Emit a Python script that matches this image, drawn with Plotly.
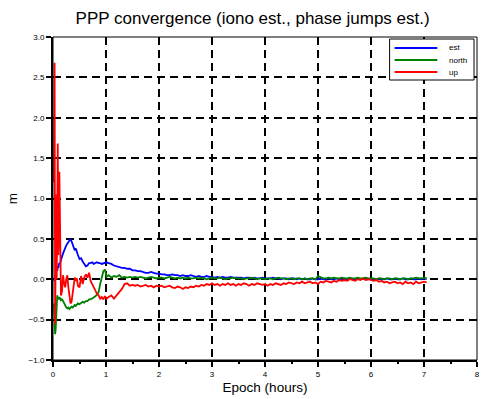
import plotly.graph_objects as go

# ---------------- data ----------------
hours_early = [0.02, 0.03, 0.04, 0.05, 0.06, 0.07, 0.08, 0.09, 0.10, 0.11,
               0.12, 0.13, 0.14, 0.15, 0.17, 0.19, 0.21, 0.23, 0.25, 0.27,
               0.29, 0.31, 0.33, 0.35, 0.37, 0.39, 0.41, 0.43, 0.45, 0.47,
               0.50, 0.53, 0.56, 0.59, 0.62, 0.65, 0.68, 0.71, 0.74, 0.77,
               0.80, 0.83, 0.86, 0.89, 0.92, 0.95, 0.98, 1.01, 1.05, 1.10,
               1.15, 1.20, 1.25, 1.30, 1.35, 1.40, 1.45, 1.50]
hours_late = [1.55, 1.60, 1.65, 1.70, 1.75, 1.80, 1.85, 1.90, 1.95, 2.00,
              2.05, 2.10, 2.15, 2.20, 2.25, 2.30, 2.35, 2.40, 2.45, 2.50,
              2.55, 2.60, 2.65, 2.70, 2.75, 2.80, 2.85, 2.90, 2.95, 3.00,
              3.05, 3.10, 3.15, 3.20, 3.25, 3.30, 3.35, 3.40, 3.45, 3.50,
              3.55, 3.60, 3.65, 3.70, 3.75, 3.80, 3.85, 3.90, 3.95, 4.00,
              4.05, 4.10, 4.15, 4.20, 4.25, 4.30, 4.35, 4.40, 4.45, 4.50,
              4.55, 4.60, 4.65, 4.70, 4.75, 4.80, 4.85, 4.90, 4.95, 5.00,
              5.05, 5.10, 5.15, 5.20, 5.25, 5.30, 5.35, 5.40, 5.45, 5.50,
              5.55, 5.60, 5.65, 5.70, 5.75, 5.80, 5.85, 5.90, 5.95, 6.00,
              6.05, 6.10, 6.15, 6.20, 6.25, 6.30, 6.35, 6.40, 6.45, 6.50,
              6.55, 6.60, 6.65, 6.70, 6.75, 6.80, 6.85, 6.90, 6.95, 7.00,
              7.05]
hours = hours_early + hours_late

est_early = [0.00, -0.02, 0.05, 0.00, 0.12, 0.15, 0.10, 0.16, 0.14, 0.18,
             0.20, 0.19, 0.22, 0.25, 0.28, 0.32, 0.36, 0.38, 0.42, 0.44,
             0.46, 0.48, 0.50, 0.47, 0.43, 0.40, 0.36, 0.38, 0.35, 0.30,
             0.25, 0.26, 0.22, 0.18, 0.16, 0.17, 0.20, 0.20, 0.21, 0.19,
             0.20, 0.21, 0.20, 0.20, 0.19, 0.20, 0.21, 0.21, 0.20, 0.19,
             0.17, 0.16, 0.15, 0.14, 0.14, 0.13, 0.13, 0.11]
est_late = [0.11, 0.10, 0.10, 0.09, 0.08, 0.08, 0.09, 0.08, 0.07, 0.07,
            0.06, 0.06, 0.05, 0.05, 0.06, 0.05, 0.05, 0.04, 0.05, 0.04,
            0.04, 0.05, 0.04, 0.03, 0.04, 0.03, 0.03, 0.04, 0.03, 0.03,
            0.02, 0.03, 0.02, 0.03, 0.02, 0.02, 0.03, 0.02, 0.02, 0.02,
            0.02, 0.01, 0.02, 0.02, 0.01, 0.02, 0.01, 0.01, 0.02, 0.01,
            0.01, 0.01, 0.02, 0.01, 0.01, 0.00, 0.01, 0.01, 0.00, 0.01,
            0.01, 0.00, 0.01, 0.00, 0.01, 0.00, 0.00, 0.01, 0.00, 0.00,
            0.01, 0.00, 0.00, 0.01, 0.00, 0.00, 0.01, 0.00, 0.00, 0.01,
            0.00, 0.01, 0.00, 0.00, 0.01, 0.00, 0.01, 0.00, 0.00, 0.01,
            0.00, 0.00, 0.01, 0.00, 0.00, 0.01, 0.00, 0.00, 0.01, 0.00,
            0.00, 0.01, 0.00, 0.00, 0.01, 0.00, 0.00, 0.01, 0.00, 0.01,
            0.00]

north_early = [-0.30, -0.55, -0.68, -0.62, -0.40, -0.22, -0.20, -0.24, -0.22, -0.25,
               -0.22, -0.24, -0.23, -0.26, -0.25, -0.27, -0.30, -0.33, -0.35, -0.36,
               -0.35, -0.37, -0.36, -0.34, -0.35, -0.33, -0.32, -0.33, -0.31, -0.30,
               -0.31, -0.29, -0.28, -0.29, -0.27, -0.27, -0.25, -0.25, -0.24, -0.22,
               -0.21, -0.19, -0.16, -0.06, 0.04, 0.10, 0.12, 0.03, 0.05, 0.02,
               0.04, 0.03, 0.05, 0.02, 0.03, 0.02, 0.03, 0.02]
north_late = [0.03, 0.02, 0.03, 0.02, 0.01, 0.02, 0.03, 0.02, 0.01, 0.02,
              0.02, 0.01, 0.02, 0.03, 0.02, 0.01, 0.02, 0.01, 0.02, 0.01,
              0.02, 0.01, 0.01, 0.02, 0.01, 0.02, 0.01, 0.00, 0.01, 0.02,
              0.01, 0.01, 0.02, 0.01, 0.00, 0.01, 0.01, 0.02, 0.01, 0.01,
              0.01, 0.00, 0.01, 0.01, 0.02, 0.01, 0.00, 0.01, 0.01, 0.00,
              0.01, 0.01, 0.00, 0.01, 0.02, 0.01, 0.01, 0.00, 0.01, 0.01,
              0.00, 0.01, 0.01, 0.00, 0.01, 0.00, 0.01, 0.01, 0.00, 0.04,
              0.02, 0.01, 0.01, 0.02, 0.01, 0.02, 0.01, 0.01, 0.02, 0.01,
              0.01, 0.02, 0.01, 0.01, 0.02, 0.01, 0.01, 0.02, 0.01, 0.01,
              0.01, 0.00, 0.01, 0.01, 0.00, 0.01, 0.01, 0.00, 0.01, 0.01,
              0.00, 0.01, 0.01, 0.00, 0.01, 0.01, 0.02, 0.01, 0.01, 0.02,
              0.01]

up_early = [1.20, 2.68, -0.55, 0.40, 1.05, 0.00, 0.60, 1.68, 0.30, 0.60,
            1.33, 0.50, -0.10, -0.20, -0.15, 0.05, -0.05, -0.10, 0.00, 0.05,
            -0.10, -0.20, -0.30, -0.28, -0.15, -0.05, 0.02, -0.02, 0.01, -0.08,
            -0.10, 0.04, -0.06, 0.02, 0.06, 0.02, 0.08, -0.02, -0.06, -0.12,
            -0.15, -0.18, -0.20, -0.24, -0.22, -0.25, -0.21, -0.24, -0.22, -0.20,
            -0.24, -0.20, -0.17, -0.12, -0.06, -0.05, -0.08, -0.07]
up_late = [-0.08, -0.07, -0.09, -0.08, -0.07, -0.09, -0.08, -0.10, -0.08, -0.09,
           -0.08, -0.10, -0.09, -0.08, -0.10, -0.11, -0.09, -0.10, -0.12, -0.10,
           -0.11, -0.09, -0.10, -0.08, -0.09, -0.07, -0.08, -0.06, -0.07, -0.05,
           -0.07, -0.06, -0.08, -0.06, -0.07, -0.05, -0.07, -0.06, -0.08, -0.06,
           -0.07, -0.05, -0.06, -0.08, -0.06, -0.07, -0.05, -0.06, -0.07, -0.06,
           -0.08, -0.06, -0.07, -0.05, -0.06, -0.07, -0.05, -0.06, -0.04, -0.05,
           -0.06, -0.04, -0.05, -0.03, -0.05, -0.04, -0.03, -0.05, -0.04, -0.06,
           -0.03, -0.04, -0.02, -0.03, -0.04, -0.02, -0.03, -0.01, -0.02, -0.01,
           -0.02, 0.00, -0.01, -0.02, 0.00, -0.01, 0.01, -0.01, 0.00, -0.01,
           -0.02, -0.01, -0.03, -0.02, -0.04, -0.03, -0.05, -0.04, -0.03, -0.05,
           -0.04, -0.06, -0.03, -0.05, -0.04, -0.06, -0.03, -0.05, -0.04, -0.03,
           -0.04]

est = est_early + est_late
north = north_early + north_late
up = up_early + up_late

series_names = ["est", "north", "up"]
series_colors = ["#0000ff", "#008000", "#ff0000"]
x_ticks = [0, 1, 2, 3, 4, 5, 6, 7, 8]
y_ticks = [-1.0, -0.5, 0.0, 0.5, 1.0, 1.5, 2.0, 2.5, 3.0]

# ---------------- figure ----------------
FONT = "Liberation Sans, Arial, sans-serif"
W, H = 483, 399
ML, MR, MT, MB = 53, 3, 37, 39
PW, PH = W - ML - MR, H - MT - MB


def px2paper(px, py):
    return (px - ML) / PW, (H - MB - py) / PH


fig = go.Figure()
for name, vals, col in zip(series_names, [est, north, up], series_colors):
    fig.add_trace(go.Scatter(x=hours, y=vals, mode="lines", name=name,
                             line=dict(color=col, width=1.8), showlegend=False))

fig.update_layout(
    width=W, height=H,
    margin=dict(l=ML, r=MR, t=MT, b=MB),
    paper_bgcolor="white", plot_bgcolor="white",
    font=dict(family=FONT, color="#000000"),
    title=dict(text="PPP convergence (iono est., phase jumps est.)",
               x=0.523, xanchor="center", y=0.955, yanchor="middle",
               font=dict(size=17, family=FONT, color="#000000")),
    showlegend=False,
)

fig.update_xaxes(
    range=[0, 8], tickvals=x_ticks, ticktext=[str(v) for v in x_ticks],
    showline=True, linecolor="black", linewidth=2, mirror=False,
    ticks="outside", ticklen=5, tickwidth=1.5, tickcolor="black",
    minor=dict(dtick=0.5, ticks="outside", ticklen=2, tickcolor="black", showgrid=False),
    showgrid=True, gridcolor="black", gridwidth=1.5, griddash="8px,5px",
    zeroline=False, tickfont=dict(size=8),
    title=dict(text="Epoch (hours)", font=dict(size=13.5), standoff=5),
)
fig.update_yaxes(
    range=[-1.0, 3.0], tickvals=y_ticks, tickformat=".1f",
    showline=True, linecolor="black", linewidth=2, mirror=False,
    ticks="outside", ticklen=5, tickwidth=1.5, tickcolor="black",
    showgrid=True, gridcolor="black", gridwidth=1.5, griddash="8px,5px",
    zeroline=False, tickfont=dict(size=8),
    title=dict(text="m", font=dict(size=13.5), standoff=8),
)

# thin frame on top / right
fig.add_shape(type="rect", xref="paper", yref="paper", x0=0, y0=0, x1=1, y1=1,
              line=dict(color="black", width=1), layer="above")

# hand-built legend box (compact, like the reference)
bx0, by0 = px2paper(392, 80)
bx1, by1 = px2paper(477, 39)
fig.add_shape(type="rect", xref="paper", yref="paper", x0=bx0, y0=by0, x1=bx1, y1=by1,
              line=dict(color="black", width=1), fillcolor="white", layer="above")
for i, (name, col) in enumerate(zip(series_names, series_colors)):
    ly = 48 + 12 * i
    lx0, lyp = px2paper(397, ly)
    lx1, _ = px2paper(440, ly)
    tx, _ = px2paper(450, ly)
    fig.add_shape(type="line", xref="paper", yref="paper", x0=lx0, x1=lx1, y0=lyp, y1=lyp,
                  line=dict(color=col, width=1.8), layer="above")
    fig.add_annotation(xref="paper", yref="paper", x=tx, y=lyp, text=name,
                       showarrow=False, xanchor="left", yanchor="middle",
                       font=dict(size=8, family=FONT, color="black"))

fig.write_html("out.html")
